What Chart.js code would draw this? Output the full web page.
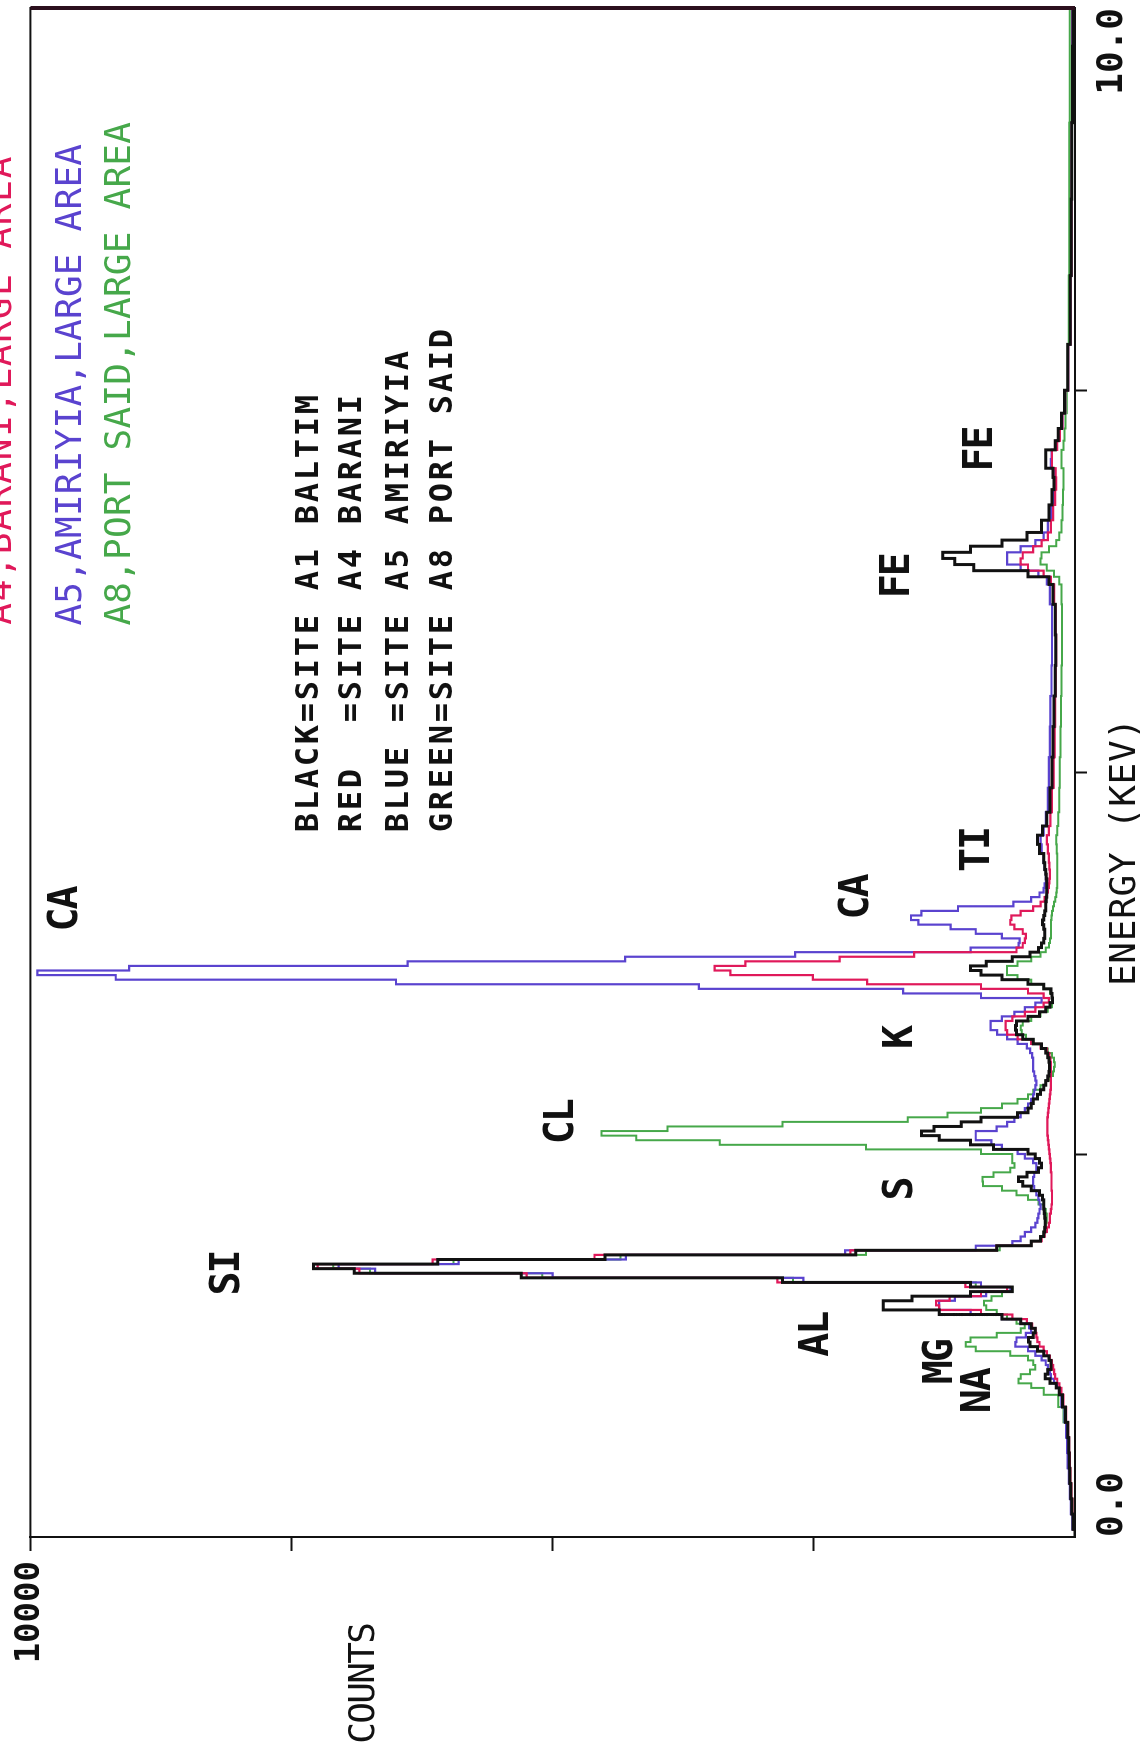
<!DOCTYPE html>
<html>
<head>
<meta charset="utf-8">
<script src="https://cdn.jsdelivr.net/npm/chart.js@4.4.0/dist/chart.umd.min.js"></script>
<style>
  html, body { margin: 0; padding: 0; background: #fff; overflow: hidden; }
  body { width: 1142px; height: 1758px; position: relative; }
  /* the plotter sheet is photographed on its side */
  #turn { position: absolute; left: 0; top: 0; width: 1758px; height: 1142px;
          transform-origin: 0 0; transform: translateY(1758px) rotate(-90deg); }
  #spectrum { display: block; width: 1758px; height: 1142px; }
</style>
</head>
<body>
<div id="turn"><canvas id="spectrum" width="1758" height="1142"></canvas></div>
<script>
// energy channels (keV)
const energy = [
  0.0, 0.1, 0.2, 0.3, 0.4, 0.5, 0.6, 0.7, 0.8, 0.9,
  0.96, 0.99, 1.02, 1.05, 1.08, 1.11, 1.14, 1.17, 1.20, 1.23, 1.26, 1.29, 1.32, 1.35, 1.38, 1.41, 1.44, 1.47,
  1.50, 1.53, 1.56, 1.59, 1.62, 1.65, 1.68, 1.71, 1.74, 1.77, 1.80, 1.83, 1.86, 1.89, 1.92, 1.95, 1.98,
  2.01, 2.04, 2.07, 2.10, 2.13, 2.16, 2.19, 2.22, 2.25, 2.28, 2.31, 2.34, 2.37, 2.40, 2.43, 2.46, 2.49,
  2.52, 2.55, 2.58, 2.61, 2.64, 2.67, 2.70, 2.73, 2.76, 2.79, 2.82, 2.85, 2.88, 2.91, 2.94, 2.97,
  3.00, 3.03, 3.06, 3.09, 3.12, 3.15, 3.18, 3.21, 3.24, 3.27, 3.30, 3.33, 3.36, 3.39, 3.42, 3.45, 3.48,
  3.51, 3.54, 3.57, 3.60, 3.63, 3.66, 3.69, 3.72, 3.75, 3.78, 3.81, 3.84, 3.87, 3.90, 3.93, 3.96, 3.99,
  4.02, 4.05, 4.08, 4.11, 4.14, 4.17, 4.20, 4.23, 4.26, 4.29, 4.32, 4.35, 4.38,
  4.44, 4.50, 4.56, 4.62, 4.68, 4.80, 5.00, 5.20, 5.40, 5.60, 5.80, 6.00, 6.20,
  6.26, 6.30, 6.34, 6.38, 6.42, 6.46, 6.50, 6.54, 6.60, 6.70, 6.80, 6.90, 6.96, 7.02, 7.08, 7.14, 7.20,
  7.30, 7.40, 7.60, 8.00, 8.50, 9.00, 9.50, 10.00
];

// counts per channel, one array per site
const baltim = [
  0, 20, 30, 40, 50, 55, 60, 70, 90, 120,
  150, 180, 240, 285, 260, 230, 230, 250, 300, 360, 430, 445, 400, 380, 420, 520, 700, 1300,
  1835, 1835, 1560, 1000, 600, 1000, 2800, 5300, 6900, 7290, 6100, 4500, 2100, 750, 420, 330, 300,
  290, 285, 285, 290, 295, 300, 300, 310, 340, 420, 500, 540, 460, 350, 320, 340, 380,
  450, 780, 1000, 1300, 1470, 1350, 1090, 900, 550, 450, 420, 400, 360, 330, 300, 280,
  260, 250, 245, 245, 250, 260, 280, 320, 400, 500, 560, 570, 560, 450, 340, 280, 240,
  215, 220, 230, 300, 450, 700, 900, 1000, 850, 600, 430, 350, 320, 300, 290, 290, 300,
  310, 300, 290, 280, 280, 275, 270, 270, 270, 270, 275, 280, 290,
  300, 340, 360, 310, 270, 240, 220, 210, 200, 190, 185, 190, 210,
  250, 450, 970, 1150, 1267, 1000, 700, 460, 320, 250, 220, 200, 210, 280, 280, 190, 160,
  130, 100, 70, 45, 35, 30, 25, 20
];
const barani = [
  0, 15, 25, 35, 45, 50, 55, 65, 85, 110,
  130, 150, 170, 190, 200, 210, 220, 240, 270, 300, 340, 360, 370, 380, 410, 460, 600, 900,
  1300, 1330, 1200, 900, 650, 1050, 2850, 5250, 6850, 7250, 6150, 4600, 2150, 750, 420, 320, 290,
  270, 250, 240, 240, 230, 225, 220, 220, 220, 225, 225, 225, 225, 230, 230, 235, 240,
  245, 250, 255, 260, 265, 265, 265, 265, 260, 255, 250, 245, 240, 235, 230, 230,
  230, 230, 230, 230, 235, 245, 270, 330, 420, 550, 650, 665, 665, 600, 480, 380, 300,
  250, 300, 450, 900, 1990, 2510, 3300, 3450, 3156, 2253, 1540, 560, 500, 480, 470, 500, 580,
  620, 610, 520, 400, 330, 290, 270, 260, 250, 245, 240, 240, 245,
  250, 260, 270, 250, 235, 220, 205, 195, 190, 185, 180, 185, 200,
  230, 300, 450, 520, 500, 400, 320, 260, 230, 210, 190, 180, 185, 220, 220, 170, 145,
  120, 95, 65, 45, 35, 30, 25, 20
];
const amiriyia = [
  0, 25, 40, 50, 60, 70, 75, 85, 100, 130,
  150, 170, 200, 230, 240, 260, 280, 320, 380, 450, 570, 560, 470, 420, 440, 520, 700, 1000,
  1300, 1300, 1150, 850, 620, 900, 2600, 5000, 6700, 7050, 5900, 4300, 2200, 950, 600, 520, 480,
  420, 380, 360, 350, 340, 330, 340, 350, 370, 390, 400, 400, 390, 370, 370, 400, 480,
  550, 700, 800, 950, 950, 750, 650, 580, 520, 480, 450, 420, 400, 390, 380, 370,
  380, 390, 400, 400, 400, 410, 430, 460, 550, 650, 745, 808, 808, 700, 580, 480, 380,
  320, 900, 1645, 3600, 6500, 9183, 9934, 9054, 6388, 4306, 2680, 1000, 540, 530, 700, 950, 1190,
  1500, 1570, 1470, 1120, 590, 420, 340, 300, 290, 280, 280, 280, 290,
  300, 320, 330, 300, 280, 260, 250, 240, 235, 225, 220, 220, 240,
  270, 350, 520, 650, 650, 520, 380, 300, 260, 230, 210, 200, 205, 230, 225, 180, 150,
  120, 95, 65, 45, 35, 30, 25, 25
];
const portSaid = [
  0, 15, 25, 35, 45, 55, 65, 80, 110, 160,
  300, 420, 540, 520, 430, 380, 400, 450, 620, 950, 1045, 1000, 750, 520, 480, 560, 650, 750,
  850, 870, 800, 700, 600, 950, 2700, 5100, 6750, 7100, 5950, 4350, 2000, 720, 420, 330, 300,
  290, 280, 270, 270, 280, 300, 350, 450, 560, 700, 880, 885, 780, 620, 580, 600, 600,
  900, 2000, 3400, 4200, 4534, 3900, 2800, 1600, 1220, 900, 700, 550, 450, 400, 330, 280,
  240, 210, 200, 195, 200, 220, 260, 320, 400, 470, 510, 520, 500, 420, 330, 260, 220,
  210, 220, 240, 300, 420, 550, 650, 650, 550, 420, 330, 280, 250, 240, 230, 230, 230,
  230, 225, 220, 210, 200, 190, 180, 175, 170, 170, 170, 170, 170,
  170, 175, 180, 170, 160, 150, 145, 140, 135, 130, 125, 125, 130,
  150, 200, 270, 330, 320, 250, 180, 150, 130, 120, 115, 110, 110, 130, 130, 110, 100,
  90, 80, 70, 60, 55, 55, 50, 50
];

// element markers written on the sheet
const peakNames = ['CA', 'SI', 'CL', 'S', 'K', 'CA', 'TI', 'FE', 'FE', 'AL', 'MG', 'NA'];
const peakEnergy = [4.11, 1.73, 2.72, 2.28, 3.27, 4.19, 4.50, 6.29, 7.12, 1.33, 1.15, 0.96];
const peakCounts = [9690, 8140, 4940, 1700, 1700, 2120, 960, 1730, 930, 2500, 1320, 950];

const siteTitles = ['A4,BARANI,LARGE AREA', 'A5,AMIRIYIA,LARGE AREA', 'A8,PORT SAID,LARGE AREA'];
const keyLines = ['BLACK=SITE A1 BALTIM', 'RED  =SITE A4 BARANI', 'BLUE =SITE A5 AMIRIYIA', 'GREEN=SITE A8 PORT SAID'];

const INK = '#111111', RED = '#e0195a', BLUE = '#5a43cf', GREEN = '#46a84a';
const MONO = '"DejaVu Sans Mono", "Liberation Mono", monospace';

function series(values) {
    return energy.map((e, i) => ({ x: e, y: values[i] }));
}

// monospaced plotter lettering, one glyph per cell
function plotText(ctx, str, x, y, size, adv, align, bold) {
    ctx.font = (bold ? 'bold ' : '') + size + 'px ' + MONO;
    ctx.textAlign = 'center';
    ctx.textBaseline = 'alphabetic';
    const start = align === 'center' ? x - str.length * adv / 2 : x;
    for (let i = 0; i < str.length; i++) {
        ctx.fillText(str[i], start + (i + 0.5) * adv, y + size * 0.36);
    }
}

const sheetText = {
    id: 'sheetText',
    afterDraw(chart) {
        const ctx = chart.ctx;
        const xs = chart.scales.x, ys = chart.scales.y, area = chart.chartArea;
        ctx.save();

        // frame
        ctx.strokeStyle = INK;
        ctx.lineWidth = 2;
        ctx.strokeRect(area.left, area.top, area.right - area.left, area.bottom - area.top);
        ctx.strokeStyle = '#2c0f1d';
        ctx.lineWidth = 4;
        ctx.beginPath();
        ctx.moveTo(area.right, area.top);
        ctx.lineTo(area.right, area.bottom);
        ctx.stroke();

        ctx.fillStyle = INK;
        peakNames.forEach((name, i) => {
            plotText(ctx, name, xs.getPixelForValue(peakEnergy[i]), ys.getPixelForValue(peakCounts[i]), 40, 22, 'center', true);
        });

        // run titles, the first one runs off the sheet edge
        const titleColors = [RED, BLUE, GREEN];
        const titleCounts = [10310, 9640, 9170];
        const titleAdv = [23.5, 21.9, 21.9];
        siteTitles.forEach((t, i) => {
            ctx.fillStyle = titleColors[i];
            plotText(ctx, t, xs.getPixelForValue(5.96), ys.getPixelForValue(titleCounts[i]), 36, titleAdv[i], 'left', false);
        });

        ctx.fillStyle = INK;
        const keyCounts = [7360, 6950, 6500, 6070];
        keyLines.forEach((t, i) => {
            plotText(ctx, t, xs.getPixelForValue(4.6), ys.getPixelForValue(keyCounts[i]), 32, 22, 'left', true);
        });

        plotText(ctx, 'ENERGY (KEV)', xs.getPixelForValue(4.48), area.bottom + 47, 36, 22.4, 'center', false);
        plotText(ctx, 'COUNTS', area.left - 146, ys.getPixelForValue(6835), 36, 20, 'center', false);

        ctx.restore();
    }
};

const lineStyle = { stepped: 'middle', pointRadius: 0, fill: false, tension: 0 };

new Chart(document.getElementById('spectrum'), {
    type: 'line',
    data: {
        datasets: [
            Object.assign({ label: 'BLACK=SITE A1 BALTIM', data: series(baltim), borderColor: INK, borderWidth: 3 }, lineStyle),
            Object.assign({ label: 'RED =SITE A4 BARANI', data: series(barani), borderColor: RED, borderWidth: 2.2 }, lineStyle),
            Object.assign({ label: 'BLUE =SITE A5 AMIRIYIA', data: series(amiriyia), borderColor: BLUE, borderWidth: 2.2 }, lineStyle),
            Object.assign({ label: 'GREEN=SITE A8 PORT SAID', data: series(portSaid), borderColor: GREEN, borderWidth: 2 }, lineStyle)
        ]
    },
    plugins: [sheetText],
    options: {
        responsive: false,
        animation: false,
        devicePixelRatio: 1,
        layout: { padding: { top: 25, right: 8, left: 0, bottom: 0 } },
        plugins: {
            legend: { display: false },
            tooltip: { enabled: false }
        },
        scales: {
            x: {
                type: 'linear',
                min: 0,
                max: 10,
                afterFit: function (scale) { scale.height = 67; },
                ticks: {
                    stepSize: 2.5,
                    autoSkip: false,
                    maxRotation: 0,
                    align: 'inner',
                    padding: 4,
                    color: INK,
                    font: { family: MONO, size: 36, weight: 'bold' },
                    callback: function (value) {
                        if (value === 0) return '0.0';
                        if (value === 10) return '10.0';
                        return '';
                    }
                },
                grid: {
                    drawOnChartArea: false,
                    tickLength: 12,
                    tickWidth: 2,
                    tickColor: function (c) {
                        return (c.tick && (c.tick.value === 0 || c.tick.value === 10)) ? 'rgba(0,0,0,0)' : INK;
                    }
                },
                border: { display: true, color: INK, width: 2 }
            },
            y: {
                type: 'linear',
                min: 0,
                max: 10000,
                afterFit: function (scale) { scale.width = 221; },
                ticks: {
                    stepSize: 2500,
                    autoSkip: false,
                    padding: 10,
                    color: INK,
                    font: { family: MONO, size: 34, weight: 'bold' },
                    callback: function (value) {
                        return value === 10000 ? '10000' : '';
                    }
                },
                grid: {
                    drawOnChartArea: false,
                    tickLength: 14,
                    tickWidth: 2,
                    tickColor: function (c) {
                        return (c.tick && c.tick.value === 0) ? 'rgba(0,0,0,0)' : INK;
                    }
                },
                border: { display: true, color: INK, width: 2 }
            }
        }
    }
});
</script>
</body>
</html>
